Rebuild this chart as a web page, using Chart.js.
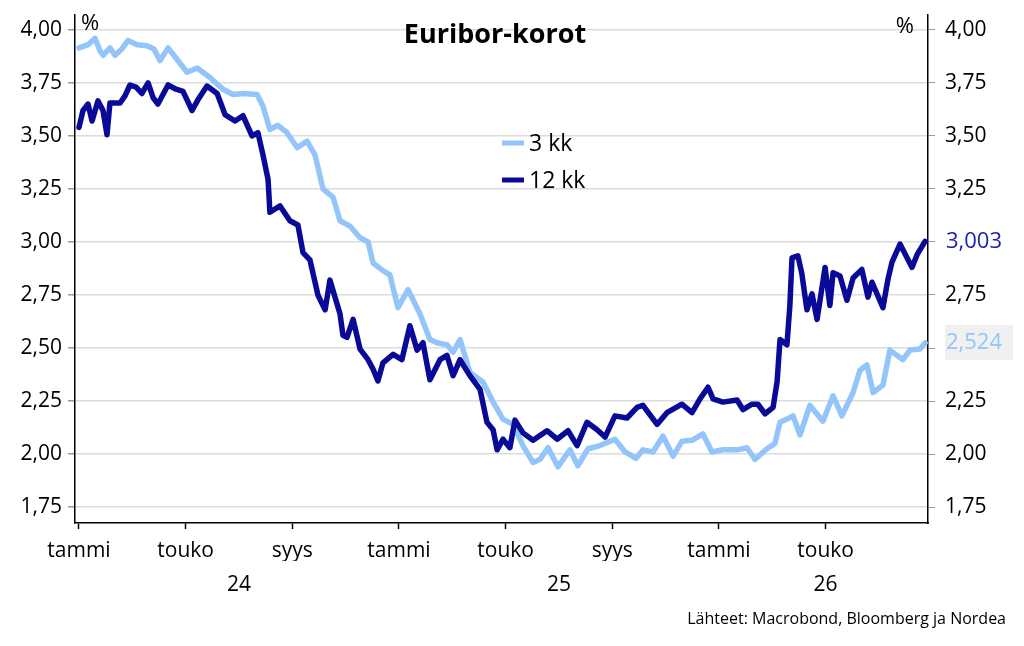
<!DOCTYPE html>
<html lang="fi">
<head>
<meta charset="utf-8">
<title>Euribor-korot</title>
<script src="https://cdn.jsdelivr.net/npm/chart.js@4.4.1/dist/chart.umd.min.js"></script>
<style>
  html, body { margin: 0; padding: 0; background: #fff; }
  #wrap { width: 1024px; height: 646px; }
</style>
</head>
<body>
<div id="wrap"><canvas id="chart" width="1024" height="646"></canvas></div>
<script>
// months since Jan 2024
const kk3Months = [0, 0.34, 0.60, 0.79, 0.90, 1.16, 1.35, 1.61, 1.84, 2.18, 2.55, 2.81, 3.04, 3.34, 3.68,
  4.05, 4.43, 4.91, 5.40, 5.78, 6.15, 6.68, 6.90, 7.16, 7.46, 7.80, 8.18, 8.55, 8.85, 9.15, 9.53, 9.79,
  10.16, 10.54, 10.84, 11.03, 11.40, 11.66, 11.96, 12.34, 12.79, 13.16, 13.43, 13.80, 14.03, 14.29, 14.66,
  15.15, 15.53, 15.90, 16.28, 16.65, 17.03, 17.29, 17.59, 17.96, 18.41, 18.71, 19.09, 19.54, 20.10, 20.48,
  20.89, 21.15, 21.53, 21.90, 22.28, 22.61, 22.99, 23.40, 23.74, 24.15, 24.68, 25.05, 25.35, 25.80, 26.10,
  26.29, 26.55, 26.78, 27.04, 27.41, 27.90, 28.28, 28.61, 29.03, 29.29, 29.55, 29.78, 30.15, 30.41, 30.90,
  31.16, 31.54, 31.73];
const kk3Values = [3.915, 3.93, 3.96, 3.90, 3.88, 3.915, 3.88, 3.91, 3.95, 3.93, 3.925, 3.91, 3.855, 3.915, 3.86,
  3.80, 3.82, 3.775, 3.72, 3.695, 3.70, 3.695, 3.64, 3.53, 3.55, 3.515, 3.445, 3.475, 3.41, 3.25, 3.21, 3.10,
  3.075, 3.02, 3.00, 2.90, 2.865, 2.845, 2.69, 2.775, 2.66, 2.54, 2.525, 2.515, 2.48, 2.54, 2.385,
  2.34, 2.245, 2.165, 2.14, 2.04, 1.96, 1.975, 2.03, 1.94, 2.02, 1.945, 2.025, 2.04, 2.07, 2.01,
  1.98, 2.02, 2.01, 2.085, 1.99, 2.06, 2.065, 2.095, 2.01, 2.02, 2.02, 2.03, 1.975, 2.025, 2.05,
  2.15, 2.165, 2.18, 2.09, 2.23, 2.155, 2.275, 2.18, 2.29, 2.395, 2.42, 2.29, 2.325, 2.49, 2.445,
  2.49, 2.495, 2.524];

const kk12Months = [0, 0.15, 0.34, 0.49, 0.71, 0.90, 1.05, 1.16, 1.54, 1.73, 1.91, 2.14, 2.36, 2.59, 2.78, 2.96,
  3.34, 3.64, 3.90, 4.24, 4.46, 4.80, 5.18, 5.48, 5.85, 6.15, 6.49, 6.71, 6.90, 7.09, 7.16, 7.54, 7.91,
  8.21, 8.40, 8.66, 8.96, 9.23, 9.41, 9.79, 9.90, 10.05, 10.28, 10.54, 10.84, 11.03, 11.21, 11.40, 11.78,
  12.11, 12.41, 12.68, 12.90, 13.16, 13.54, 13.80, 14.03, 14.29, 14.66, 15.04, 15.30, 15.53, 15.68, 15.90,
  16.16, 16.35, 16.65, 17.03, 17.55, 17.93, 18.34, 18.68, 19.05, 19.43, 19.73, 20.10, 20.55, 20.93, 21.15,
  21.68, 22.05, 22.61, 22.99, 23.29, 23.59, 23.78, 24.15, 24.68, 24.90, 25.24, 25.46, 25.73, 26.03, 26.18,
  26.29, 26.55, 26.66, 26.74, 26.96, 27.11, 27.30, 27.49, 27.68, 27.98, 28.16, 28.28, 28.54, 28.80, 29.03,
  29.36, 29.59, 29.74, 30.15, 30.34, 30.49, 30.79, 31.24, 31.43, 31.73];
const kk12Values = [3.54, 3.62, 3.65, 3.57, 3.665, 3.62, 3.505, 3.655, 3.655, 3.69, 3.74, 3.73, 3.70, 3.75, 3.68, 3.65,
  3.74, 3.72, 3.71, 3.62, 3.67, 3.735, 3.70, 3.60, 3.57, 3.595, 3.50, 3.515, 3.41, 3.295, 3.14, 3.17, 3.10,
  3.08, 2.95, 2.915, 2.75, 2.68, 2.82, 2.66, 2.56, 2.55, 2.635, 2.495, 2.445, 2.40, 2.345, 2.43, 2.47,
  2.445, 2.605, 2.49, 2.525, 2.35, 2.445, 2.465, 2.37, 2.445, 2.37, 2.305, 2.15, 2.115, 2.02, 2.07,
  2.03, 2.16, 2.10, 2.065, 2.11, 2.07, 2.11, 2.04, 2.15, 2.115, 2.08, 2.18, 2.17, 2.22, 2.23,
  2.14, 2.195, 2.235, 2.195, 2.26, 2.315, 2.26, 2.245, 2.255, 2.21, 2.235, 2.235, 2.19, 2.22, 2.34,
  2.54, 2.515, 2.70, 2.925, 2.935, 2.85, 2.68, 2.755, 2.635, 2.88, 2.70, 2.855, 2.84, 2.725, 2.83,
  2.87, 2.74, 2.81, 2.69, 2.825, 2.905, 2.99, 2.88, 2.94, 3.003];

const monthTicks = [0, 4, 8, 12, 16, 20, 24, 28];
const monthLabels = ['tammi', 'touko', 'syys'];
const yearTicks = [6, 18, 28];
const yearLabels = ['24', '25', '26'];
const valueTicks = [1.75, 2.00, 2.25, 2.50, 2.75, 3.00, 3.25, 3.50, 3.75, 4.00];

const LIGHT = '#93c5fb';
const DARK = '#0a0a98';
const FONT = '"Open Sans", "Noto Sans", sans-serif';

const fmt = (v, d) => v.toFixed(d).replace('.', ',');
const pts = (xs, ys) => xs.map((x, i) => ({ x: x, y: ys[i] }));

// keep the value axes from reserving room for half a label above / below
const noPad = s => { s.paddingTop = 0; s.paddingBottom = 0; };

// title, legend, % signs, last values and source drawn on top
const overlay = {
    id: 'overlay',
    afterDraw(chart) {
        const ctx = chart.ctx;
        const yR = chart.scales.y2;
        ctx.save();

        ctx.fillStyle = '#000';
        ctx.textAlign = 'center';
        ctx.textBaseline = 'middle';
        ctx.font = 'bold 27px ' + FONT;
        ctx.fillText('Euribor-korot', 495, 35);

        ctx.font = '22px ' + FONT;
        ctx.textAlign = 'left';
        ctx.fillText('%', 81, 24);
        ctx.textAlign = 'right';
        ctx.fillText('%', 914, 27);

        // legend
        const legend = [['3 kk', LIGHT, 143], ['12 kk', DARK, 180]];
        ctx.font = '23px ' + FONT;
        ctx.textAlign = 'left';
        legend.forEach(([txt, col, y]) => {
            ctx.fillStyle = col;
            ctx.fillRect(502, y - 2.5, 22, 5);
            ctx.fillStyle = '#000';
            ctx.fillText(txt, 529, y + 1);
        });

        // last values on the right axis
        const last12 = kk12Values[kk12Values.length - 1];
        const last3 = kk3Values[kk3Values.length - 1];
        ctx.font = '22px ' + FONT;
        const y12 = yR.getPixelForValue(last12);
        ctx.fillStyle = '#1c1cb0';
        ctx.fillText(fmt(last12, 3), 946, y12);
        const y3 = yR.getPixelForValue(last3);
        ctx.fillStyle = '#f0f0f0';
        ctx.fillRect(945, y3 - 18, 68, 35);
        ctx.fillStyle = LIGHT;
        ctx.fillText(fmt(last3, 3), 946, y3);

        ctx.fillStyle = '#000';
        ctx.font = '16px ' + FONT;
        ctx.textAlign = 'right';
        ctx.fillText('Lähteet: Macrobond, Bloomberg ja Nordea', 1006, 619);
        ctx.restore();
    }
};

new Chart(document.getElementById('chart'), {
    type: 'line',
    data: {
        datasets: [{
            label: '12 kk',
            data: pts(kk12Months, kk12Values),
            borderColor: DARK,
            borderWidth: 5.5,
            yAxisID: 'y'
        }, {
            label: '3 kk',
            data: pts(kk3Months, kk3Values),
            borderColor: LIGHT,
            borderWidth: 5.5,
            yAxisID: 'y'
        }]
    },
    options: {
        responsive: false,
        animation: false,
        parsing: false,
        elements: { point: { radius: 0 }, line: { tension: 0, borderJoinStyle: 'round', borderCapStyle: 'round' } },
        layout: { padding: { top: 15, bottom: 50, left: 0, right: 0 } },
        plugins: { legend: { display: false }, tooltip: { enabled: false } },
        scales: {
            x: {
                type: 'linear',
                position: 'bottom',
                min: -0.15,
                max: 31.84,
                afterBuildTicks: s => { s.ticks = monthTicks.map(v => ({ value: v })); },
                afterFit: s => { s.height = 38; },
                ticks: {
                    padding: 9,
                    color: '#000',
                    font: { family: FONT, size: 21 },
                    maxRotation: 0,
                    autoSkip: false,
                    callback: v => monthLabels[(v / 4) % 3]
                },
                grid: { drawOnChartArea: false, tickLength: 6, tickColor: '#000', tickWidth: 1.5 },
                border: { color: '#000', width: 1.5 }
            },
            x2: {
                type: 'linear',
                position: 'bottom',
                min: -0.15,
                max: 31.84,
                afterBuildTicks: s => { s.ticks = yearTicks.map(v => ({ value: v })); },
                afterFit: s => { s.height = 35; },
                ticks: {
                    padding: 3,
                    color: '#000',
                    font: { family: FONT, size: 21 },
                    maxRotation: 0,
                    autoSkip: false,
                    callback: v => yearLabels[yearTicks.indexOf(v)]
                },
                grid: { display: false },
                border: { display: false }
            },
            y: {
                position: 'left',
                min: 1.675,
                max: 4.07,
                afterBuildTicks: s => { s.ticks = valueTicks.map(v => ({ value: v })); },
                afterFit: s => { s.width = 75; noPad(s); },
                ticks: {
                    padding: 6,
                    color: '#000',
                    font: { family: FONT, size: 21 },
                    callback: v => fmt(v, 2)
                },
                grid: { color: '#dcdcdc', lineWidth: 1.5, tickLength: 7, tickColor: '#999' },
                border: { color: '#000', width: 1.5 }
            },
            y2: {
                position: 'right',
                min: 1.675,
                max: 4.07,
                afterBuildTicks: s => { s.ticks = valueTicks.map(v => ({ value: v })); },
                afterFit: s => { s.width = 96; noPad(s); },
                ticks: {
                    padding: 10,
                    color: '#000',
                    font: { family: FONT, size: 21 },
                    callback: v => (v === 3 || v === 2.5) ? '' : fmt(v, 2)
                },
                grid: { drawOnChartArea: false, tickLength: 7, tickColor: '#999' },
                border: { color: '#000', width: 1.5 }
            }
        }
    },
    plugins: [overlay]
});
</script>
</body>
</html>
